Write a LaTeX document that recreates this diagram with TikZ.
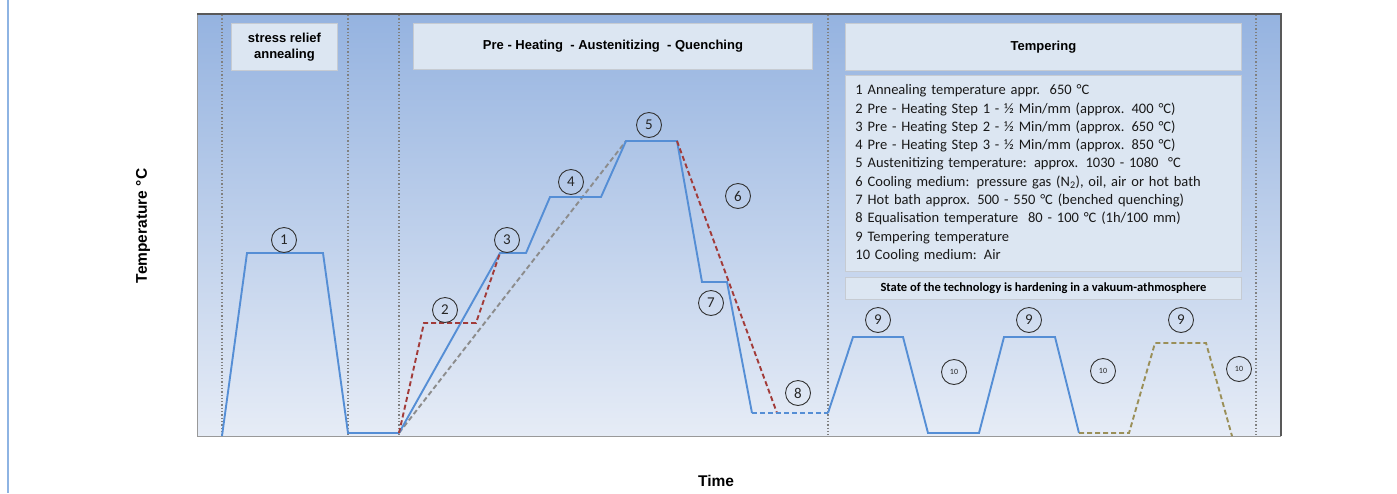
\documentclass[tikz,border=0pt]{standalone}
\usepackage{fontspec}
\setmainfont{Carlito}
\newfontfamily\arialfont{Liberation Sans}
\usetikzlibrary{positioning}
\definecolor{curve-blue}{HTML}{558ED5}
\definecolor{curve-red}{HTML}{A23B39}
\definecolor{curve-gray}{HTML}{8C8C8C}
\definecolor{curve-olive}{HTML}{9A8F58}
\definecolor{box-fill}{HTML}{DCE6F2}
\definecolor{box-border}{HTML}{C6CBD2}
\definecolor{plot-top}{HTML}{95B3E0}
\definecolor{plot-bottom}{HTML}{E6ECF6}
\definecolor{page-rule}{HTML}{8EB4E3}
\tikzset{
  x=1pt, y=-1pt,
  % Header boxes above each process phase
  phase-box/.style={draw=box-border, fill=box-fill, line width=0.9pt, anchor=north west,
    inner sep=0pt, align=center, font=\arialfont\bfseries\fontsize{13}{16}\selectfont},
  note-box/.style={draw=box-border, fill=box-fill, line width=0.9pt, anchor=north west,
    inner xsep=10pt, inner ysep=0pt, align=left, text width=376pt, text=black!90,
    font=\fontsize{14.5}{18.3}\selectfont},
  phase-rule/.style={draw=black!50, line width=1.3pt, dotted},
  curve/.style={draw=curve-blue, line width=1.9pt, line join=miter},
  dash-curve/.style={line width=1.9pt, dash pattern=on 5pt off 3pt},
  % Numbered step markers
  step-mark/.style={circle, draw=black!80, line width=0.9pt, minimum size=25pt, inner sep=0pt,
    text=black!85, font=\fontsize{15}{15}\selectfont},
  step-small/.style={step-mark, font=\fontsize{8}{8}\selectfont},
  axis-label/.style={font=\arialfont\bfseries\fontsize{15.5}{16}\selectfont}
}
\begin{document}
\begin{tikzpicture}
  \useasboundingbox (0,0) rectangle (1397,493);

  % ---- Page rule and plot area --------------------------------------------
  \draw[page-rule, line width=2pt] (8,0) -- (8,493);
  \shade[top color=plot-top, bottom color=plot-bottom] (197,14) rectangle (1281,436);
  \draw[black!40, line width=1pt] (1281,436) -- (197,436) -- (197,14);
  \draw[black!65, line width=1.6pt] (197,14) -- (1281,14) -- (1281,436);

  % ---- Phase dividers ------------------------------------------------------
  \foreach \px in {222,348,399,828,1256}
    \draw[phase-rule] (\px,15) -- (\px,435);

  % ---- Phase headers -------------------------------------------------------
  \node[phase-box, minimum width=106pt, minimum height=47pt] (relief) at (231,23)
        {stress relief\\annealing};
  \node[phase-box, minimum width=399pt, minimum height=46pt] (hardening) at (413,23)
        {Pre - Heating\ \ - Austenitizing\ \ - Quenching};
  \node[phase-box, minimum width=396pt, minimum height=47pt] (tempering) at (845,23)
        {Tempering};

  % ---- Legend --------------------------------------------------------------
  \node[note-box, minimum height=196pt, below=4pt of tempering.south west, anchor=north west] (notes)
        {1 Annealing temperature appr.\ \ 650 °C\\
         2 Pre - Heating Step 1 - ½ Min/mm (approx. 400 °C)\\
         3 Pre - Heating Step 2 - ½ Min/mm (approx. 650 °C)\\
         4 Pre - Heating Step 3 - ½ Min/mm (approx. 850 °C)\\
         5 Austenitizing temperature: approx. 1030 - 1080\ \ °C\\
         6 Cooling medium: pressure gas (N\textsubscript{2}), oil, air or hot bath\\
         7 Hot bath approx. 500 - 550 °C (benched quenching)\\
         8 Equalisation temperature\ \ 80 - 100 °C (1h/100 mm)\\
         9 Tempering temperature\\
         10 Cooling medium: Air};
  \node[phase-box, minimum width=396pt, minimum height=22pt, font=\bfseries\fontsize{12.5}{13}\selectfont,
        below=5pt of notes.south west, anchor=north west] (state)
        {State of the technology is hardening in a vakuum-athmosphere};

  % ---- Axis labels ---------------------------------------------------------
  \node[axis-label, rotate=90] (templabel) at (143,226) {Temperature °C};
  \node[axis-label] (timelabel) at (716,481) {Time};

  % ---- Stress relief annealing ----------------------------------------------
  \draw[curve] (222,436) -- (247,253) -- (323,253) -- (348,433) -- (399,433);

  % ---- Pre-heating, austenitizing, quenching -------------------------------
  \draw[curve-gray, dash-curve] (399,433) -- (626,141);
  \draw[curve] (399,433) -- (500,253) -- (526,253) -- (550,197) -- (601,197)
        -- (626,141) -- (677,141) -- (702,282) -- (727,282) -- (752,413);
  \draw[curve-red, dash-curve] (399,433) -- (424,323) -- (476,323) -- (500,253);
  \draw[curve-red, dash-curve] (677,141) -- (777,413);
  \draw[curve-blue, dash-curve, line width=1.6pt] (752,413) -- (828,413);

  % ---- Tempering -----------------------------------------------------------
  \draw[curve] (828,413) -- (853,337) -- (903,337) -- (928,433) -- (979,433)
        -- (1004,337) -- (1055,337) -- (1079,433);
  \draw[curve-olive, dash-curve] (1079,433) -- (1129,433) -- (1155,343) -- (1206,343) -- (1232,436);

  % ---- Step markers --------------------------------------------------------
  \node[step-mark] (S1) at (284,240) {1};
  \node[step-mark] (S2) at (445,310) {2};
  \node[step-mark] (S3) at (507,240) {3};
  \node[step-mark] (S4) at (571,182) {4};
  \node[step-mark] (S5) at (649,125) {5};
  \node[step-mark] (S6) at (738,196) {6};
  \node[step-mark] (S7) at (711,303) {7};
  \node[step-mark] (S8) at (798,393) {8};
  \foreach \tx [count=\i] in {878,1029,1181}
    \node[step-mark] (S9-\i) at (\tx,320) {9};
  \node[step-small] (S10-1) at (954,372) {10};
  \node[step-small] (S10-2) at (1103,371) {10};
  \node[step-small] (S10-3) at (1239,369) {10};

\end{tikzpicture}
\end{document}
